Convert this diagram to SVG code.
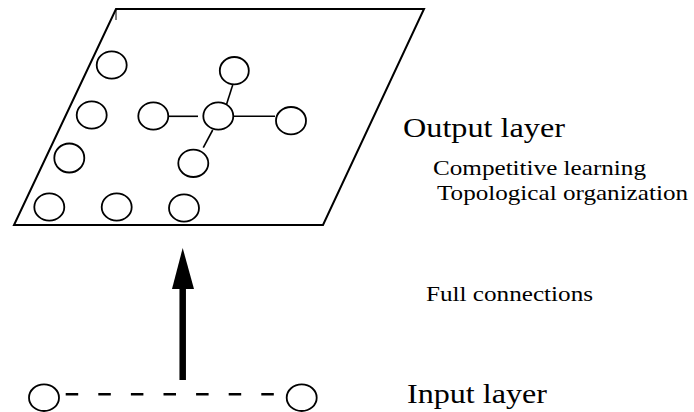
<svg xmlns="http://www.w3.org/2000/svg" width="694" height="412" viewBox="0 0 694 412">
<style>
.n{fill:#fff;stroke:#000;stroke-width:1.8}
.l{stroke:#000;stroke-width:1.6;fill:none}
</style>
<rect width="694" height="412" fill="#fff"/>
<g id="output-layer">
<polygon points="116,9 424,9 323,225 14,225" fill="none" stroke="#000" stroke-width="2"/>
<line x1="116" y1="9" x2="116" y2="20" stroke="#000" stroke-width="1"/>
</g>
<g id="connectors">
<line class="l" x1="168" y1="116.3" x2="198" y2="116.3"/>
<line class="l" x1="233" y1="116.3" x2="275" y2="116.3"/>
<line class="l" x1="232.7" y1="85" x2="226" y2="106"/>
<line class="l" x1="212.7" y1="130" x2="203.3" y2="147.7"/>
<line x1="65.7" y1="394.3" x2="277" y2="394.3" stroke="#000" stroke-width="2.5" stroke-dasharray="12.5 20.1"/>
<line x1="182.7" y1="380" x2="182.7" y2="287" stroke="#000" stroke-width="6.5"/>
<polygon points="182.7,248 172,289 194,289" fill="#000"/>
</g>
<g id="n1"><ellipse class="n" cx="111.7" cy="65" rx="15" ry="13.7"/></g>
<g id="n2"><ellipse class="n" cx="91.7" cy="115" rx="15" ry="13.7"/></g>
<g id="n3"><ellipse class="n" cx="69.3" cy="158" rx="15" ry="14.5"/></g>
<g id="n4"><ellipse class="n" cx="49.3" cy="207" rx="15" ry="13.7"/></g>
<g id="n5"><ellipse class="n" cx="116.7" cy="207" rx="15" ry="13.7"/></g>
<g id="n6"><ellipse class="n" cx="184" cy="208" rx="15" ry="13.7"/></g>
<g id="n7"><ellipse class="n" cx="153.3" cy="116" rx="15" ry="13.7"/></g>
<g id="n8"><ellipse class="n" cx="218.3" cy="116" rx="15" ry="13.7"/></g>
<g id="n9"><ellipse class="n" cx="234.3" cy="70.7" rx="14.5" ry="13.7"/></g>
<g id="n10"><ellipse class="n" cx="291" cy="120.7" rx="15" ry="13.7"/></g>
<g id="n11"><ellipse class="n" cx="193.3" cy="163.3" rx="15" ry="13.7"/></g>
<g id="in1"><ellipse class="n" cx="44" cy="397.7" rx="15" ry="13.3"/></g>
<g id="in2"><ellipse class="n" cx="301.7" cy="397.7" rx="15" ry="13.3"/></g>
<g id="labels" font-family="Liberation Serif, Times New Roman, serif" fill="#000">
<text x="403" y="137.3" font-size="28" textLength="162" lengthAdjust="spacingAndGlyphs">Output layer</text>
<text x="433" y="175" font-size="22" textLength="213" lengthAdjust="spacingAndGlyphs">Competitive learning</text>
<text x="437" y="200" font-size="22" textLength="251" lengthAdjust="spacingAndGlyphs">Topological organization</text>
<text x="426" y="301" font-size="21" textLength="167" lengthAdjust="spacingAndGlyphs">Full connections</text>
<text x="407" y="403" font-size="28" textLength="140" lengthAdjust="spacingAndGlyphs">Input layer</text>
</g>
</svg>
